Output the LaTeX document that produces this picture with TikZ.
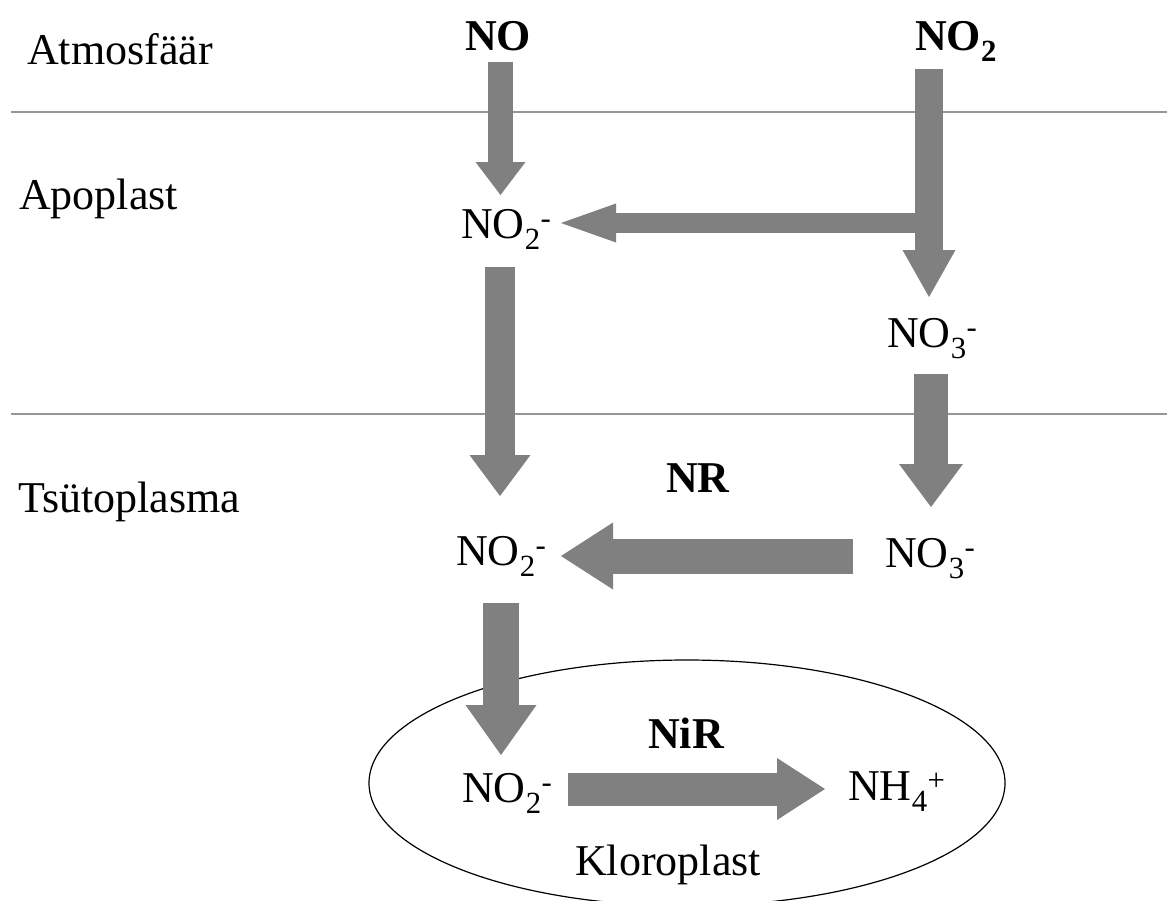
\documentclass[tikz,border=0pt]{standalone}
\usepackage{fontspec}
\setmainfont{Liberation Serif}
\usepackage{tikz}
\usetikzlibrary{arrows.meta, calc}

\definecolor{flowgray}{RGB}{128,128,128}
\definecolor{rulegray}{RGB}{150,150,150}

\begin{document}
\begin{tikzpicture}[
            x=1pt, y=-1pt,
            lbl/.style={inner sep=0pt, anchor=base west, font=\fontsize{44}{50}\selectfont}, % plain labels
            lblbold/.style={lbl, font=\fontsize{44}{50}\selectfont\bfseries}, % gases and enzymes
            flow/.style n args={3}{draw=flowgray, line width=#1, -{Triangle[width=#2, length=#3, line width=0pt]}}, % thick grey arrows
            layer/.style={draw=rulegray, line width=1.5pt} % borders between compartments
            ]

        \useasboundingbox[fill=white] (0,0) rectangle (1167,900);

        % compartments
        \draw[layer] (11,112) -- (1167,112);
        \draw[layer] (11,414) -- (1167,414);
        \draw[line width=1.2pt] (687,783) ellipse [x radius=318, y radius=123];

        \node[lbl] (atm) at (27,64) {Atmosfäär};
        \node[lbl] (apo) at (19,209) {Apoplast};
        \node[lbl] (cyto) at (18,512) {Tsütoplasma};
        \node[lbl] (chl) at (575,875) {Kloroplast};

        % species
        \node[lblbold] (no) at (465,50) {NO};
        \node[lblbold] (notwo) at (915,50) {NO\textsubscript{2}};
        \node[lbl] (apoNOa) at (461,238) {NO\textsubscript{2}\textsuperscript{-}};
        \node[lbl] (apoNOb) at (887,347) {NO\textsubscript{3}\textsuperscript{-}};
        \node[lbl] (cyNOa) at (456,565) {NO\textsubscript{2}\textsuperscript{-}};
        \node[lbl] (cyNOb) at (885,567) {NO\textsubscript{3}\textsuperscript{-}};
        \node[lbl] (chNOa) at (462,802) {NO\textsubscript{2}\textsuperscript{-}};
        \node[lbl] (chNH) at (848,800) {NH\textsubscript{4}\textsuperscript{+}};

        % enzymes
        \node[lblbold] (nr) at (666,492) {NR};
        \node[lblbold] (nir) at (648,748) {NiR};

        % arrows
        \draw[flow={25pt}{50pt}{33pt}] ($(no.base west)+(35.5,12)$) -- ($(apoNOa.base west)+(39.5,-43)$);
        \draw[flow={20pt}{39pt}{55pt}] ($(notwo.base west |- apoNOa.base)+(14,-15)$) -- ($(apoNOa.base west)+(100,-15)$);
        \draw[flow={28pt}{53pt}{47pt}] ($(notwo.base west)+(14,19)$) -- ($(apoNOb.base west)+(42,-50)$);
        \draw[flow={30pt}{61pt}{41pt}] ($(apoNOa.base west)+(39,29)$) -- ($(cyNOa.base west)+(44,-69)$);
        \draw[flow={34pt}{64pt}{43pt}] ($(apoNOb.base west)+(44,27)$) -- ($(cyNOb.base west)+(46,-60)$);
        \draw[flow={35pt}{67pt}{52pt}] ($(cyNOb.base west)+(-32,-11)$) -- ($(cyNOa.base west)+(105,-9)$);
        \draw[flow={36pt}{71pt}{50pt}] ($(cyNOa.base west)+(45,38)$) -- ($(chNOa.base west)+(39,-47)$);
        \draw[flow={33pt}{62pt}{48pt}] ($(chNOa.base west)+(106,-13)$) -- ($(chNH.base west)+(-23,-11)$);

\end{tikzpicture}
\end{document}
